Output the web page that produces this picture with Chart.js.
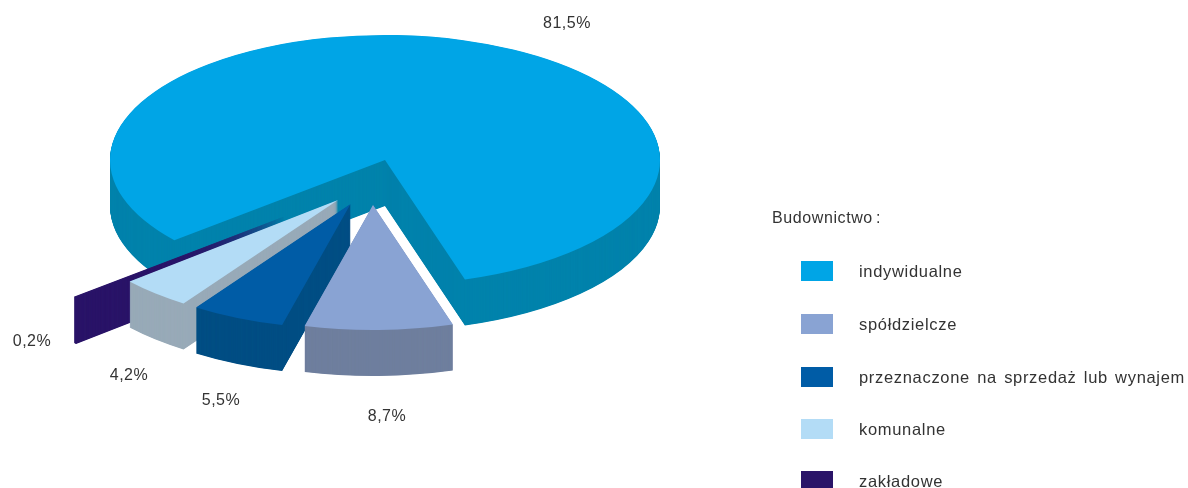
<!DOCTYPE html>
<html><head><meta charset="utf-8">
<style>html,body{margin:0;padding:0;background:#fff;overflow:hidden}#wrap{width:1188px;height:488px}canvas{display:block}</style>
<script src="https://cdn.jsdelivr.net/npm/chart.js@4"></script>
</head><body><div id="wrap"><canvas id="c" width="1188" height="488"></canvas></div>
<script>
const categories = ['indywidualne','spółdzielcze','przeznaczone na sprzedaż lub wynajem','komunalne','zakładowe'];
const shares = [81.5, 8.7, 5.5, 4.2, 0.2];
const valueLabels = ['81,5%','8,7%','5,5%','4,2%','0,2%'];
const legendTitle = 'Budownictwo :';

const topColors = ['#00A5E6','#89A3D3','#005CA6','#B3DCF6','#2A1468'];
const sideColors = ['#0083AC','#6F7F9E','#004E84','#98AAB8','#2A1468'];
const apexSpots = [[385,160],[373,205],[350.5,204],[338,200],[284.5,216.5]];
const labelSpots = [[567,24],[387,417],[221,401],[129,376],[32,342]];
const legendRows = [271,324,377,429,481];
const layoutCfg = {squash:0.4545, depth:46, radius:275};
const paintOrder = [0,4,3,2,1];
const TEXT = '#333333';

const pie3d = {
  id:'pie3d',
  beforeDatasetsDraw(chart){
    const ctx = chart.ctx, arcs = chart.getDatasetMeta(0).data;
    const {squash,depth} = layoutCfg;
    const paint = (el,i,color,dy) => {
      const keep = el.options;
      el.options = Object.assign({}, keep, {offset:0, backgroundColor:color, borderColor:color, borderWidth:0});
      ctx.save();
      ctx.translate(apexSpots[i][0], apexSpots[i][1] + dy);
      ctx.scale(1, squash);
      ctx.translate(-el.x, -el.y);
      el.draw(ctx);
      ctx.restore();
      el.options = keep;
    };
    paintOrder.forEach(i => {
      const el = arcs[i];
      for (let d = depth; d > 0; d -= 0.5) paint(el,i,sideColors[i],d);
      paint(el,i,topColors[i],0);
    });
    return false;
  },
  afterDraw(chart){
    const ctx = chart.ctx;
    ctx.save();
    ctx.font = '16px "Liberation Sans", Arial, sans-serif';
    ctx.fillStyle = TEXT; ctx.textBaseline = 'middle';
    ctx.letterSpacing = '0.5px';
    ctx.textAlign = 'center';
    valueLabels.forEach((t,i)=>ctx.fillText(t,labelSpots[i][0],labelSpots[i][1]));
    ctx.textAlign = 'left';
    ctx.letterSpacing = '0.6px';
    ctx.wordSpacing = '-2px';
    ctx.fillText(legendTitle,772,219);
    ctx.font = '16.5px "Liberation Sans", Arial, sans-serif';
    ctx.letterSpacing = '0.68px';
    ctx.wordSpacing = '2px';
    categories.forEach((t,i)=>{
      ctx.fillStyle = topColors[i];
      ctx.fillRect(801,legendRows[i]-10,32,20);
      ctx.fillStyle = TEXT;
      ctx.fillText(t,859,legendRows[i]+1);
    });
    ctx.restore();
  }
};

new Chart(document.getElementById('c'),{
  type:'pie',
  data:{labels:categories,datasets:[{data:shares,backgroundColor:topColors,borderWidth:0}]},
  options:{
    responsive:false,animation:false,rotation:230,radius:layoutCfg.radius,
    plugins:{legend:{display:false},tooltip:{enabled:false}}
  },
  plugins:[pie3d]
});
</script></body></html>
